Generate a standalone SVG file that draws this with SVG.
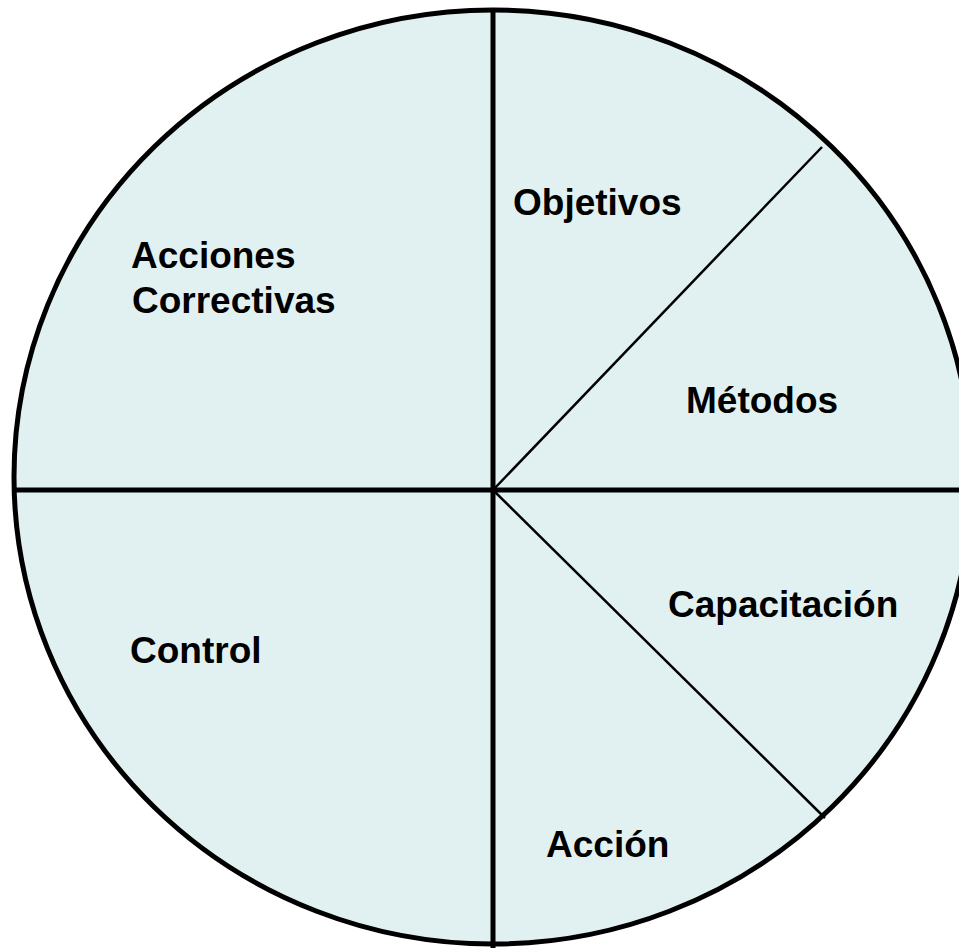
<svg xmlns="http://www.w3.org/2000/svg" width="959" height="948" viewBox="0 0 959 948">
<style>
.bg{fill:#ffffff}
.pie{fill:#E1F1F2;stroke:#000;stroke-width:5}
.thick{stroke:#000;stroke-width:5;fill:none}
.thin{stroke:#000;stroke-width:2.5;fill:none}
.lbl{font-family:"Liberation Sans",Arial,sans-serif;font-weight:bold;font-size:37px;fill:#000}
</style>
<rect class="bg" x="0" y="0" width="959" height="948"/>
<g id="circle">
<ellipse class="pie" cx="493" cy="477" rx="479" ry="467"/>
</g>
<g id="connectors">
<line class="thick" x1="493" y1="10" x2="493" y2="948"/>
<line class="thick" x1="14" y1="490" x2="959" y2="490"/>
<line class="thin" x1="493" y1="490" x2="822" y2="147"/>
<line class="thin" x1="493" y1="490" x2="825" y2="818"/>
</g>
<g id="acciones-correctivas"><text class="lbl" x="131" y="268">Acciones</text><text class="lbl" x="132" y="313">Correctivas</text></g>
<g id="objetivos"><text class="lbl" x="513" y="215">Objetivos</text></g>
<g id="metodos"><text class="lbl" x="686" y="413">Métodos</text></g>
<g id="capacitacion"><text class="lbl" x="668" y="617">Capacitación</text></g>
<g id="control"><text class="lbl" x="130" y="663">Control</text></g>
<g id="accion"><text class="lbl" x="546" y="857">Acción</text></g>
</svg>
